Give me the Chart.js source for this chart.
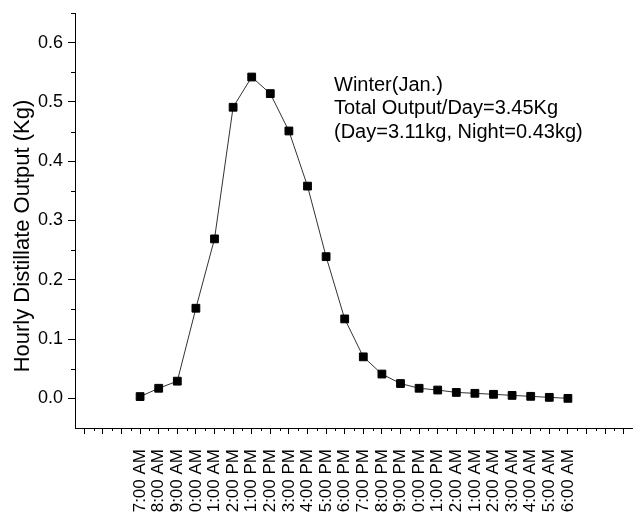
<!DOCTYPE html>
<html>
<head>
<meta charset="utf-8">
<script src="https://cdn.jsdelivr.net/npm/chart.js@4"></script>
<style>
  body { margin: 0; background: #fff; }
  canvas { display: block; }
</style>
</head>
<body>
<canvas id="winterChart" width="633" height="514"></canvas>
<script>
// hour of day, as printed under the axis (leading "1" clipped in the source)
const hourLabels = ['7:00 AM', '8:00 AM', '9:00 AM', '0:00 AM', '1:00 AM', '2:00 PM',
  '1:00 PM', '2:00 PM', '3:00 PM', '4:00 PM', '5:00 PM', '6:00 PM', '7:00 PM', '8:00 PM',
  '9:00 PM', '0:00 PM', '1:00 PM', '2:00 AM', '1:00 AM', '2:00 AM', '3:00 AM', '4:00 AM',
  '5:00 AM', '6:00 AM'];
// hourly distillate output in kg
const outputKg = [0.003, 0.017, 0.029, 0.152, 0.269, 0.491, 0.542, 0.514, 0.451, 0.358,
  0.239, 0.134, 0.070, 0.041, 0.025, 0.017, 0.014, 0.010, 0.0085, 0.0068, 0.005, 0.0034,
  0.0017, 0.0];
const yTicks = [0, 0.1, 0.2, 0.3, 0.4, 0.5, 0.6];
const yTitle = 'Hourly Distillate Output (Kg)';
const noteLines = ['Winter(Jan.)', 'Total Output/Day=3.45Kg', '(Day=3.11kg, Night=0.43kg)'];

const FONT = '"Liberation Sans", Arial, sans-serif';

const xMajor = [];
for (let i = -3; i <= 26; i++) xMajor.push(i);

// minor ticks, y title and the text block
const extras = {
  id: 'extras',
  afterDraw(chart) {
    const ctx = chart.ctx;
    const xs = chart.scales.x, ys = chart.scales.y;
    ctx.save();
    ctx.strokeStyle = '#000';
    ctx.lineWidth = 1;
    ctx.beginPath();
    xMajor.forEach(v => {
      const px = Math.round(xs.getPixelForValue(v + 0.5)) + 0.5;
      if (px < xs.right - 1) {
        ctx.moveTo(px, xs.top);
        ctx.lineTo(px, xs.top + 3);
      }
    });
    yTicks.forEach(v => {
      const py = Math.round(ys.getPixelForValue(v + 0.05)) + 0.5;
      ctx.moveTo(ys.right, py);
      ctx.lineTo(ys.right - 4, py);
    });
    ctx.stroke();

    ctx.fillStyle = '#000';
    // axis title, sits a bit below the axis middle like the original
    ctx.save();
    ctx.font = '22px ' + FONT;
    ctx.textAlign = 'center';
    ctx.textBaseline = 'middle';
    ctx.translate(23, 236);
    ctx.rotate(-Math.PI / 2);
    ctx.fillText(yTitle, 0, 0);
    ctx.restore();

    ctx.font = '20px ' + FONT;
    ctx.textBaseline = 'middle';
    ctx.textAlign = 'left';
    noteLines.forEach((t, i) => ctx.fillText(t, 334, 85 + i * 23.5));
    ctx.restore();
  }
};

new Chart(document.getElementById('winterChart'), {
  type: 'line',
  data: {
    datasets: [{
      data: outputKg.map((v, i) => ({ x: i, y: v })),
      borderColor: '#333',
      borderWidth: 1,
      tension: 0,
      pointStyle: 'rect',
      pointRadius: 5.5,
      pointBackgroundColor: '#000',
      pointBorderColor: '#000',
      pointBorderWidth: 1
    }]
  },
  options: {
    responsive: false,
    animation: false,
    devicePixelRatio: 1,
    layout: { autoPadding: false, padding: { top: 13, right: 0, left: 0, bottom: 0 } },
    plugins: { legend: { display: false }, tooltip: { enabled: false } },
    scales: {
      x: {
        type: 'linear',
        min: -3.5,
        max: 26.5,
        afterBuildTicks: s => { s.ticks = xMajor.map(v => ({ value: v })); },
        afterFit: s => { s.height = 86; s.paddingLeft = 0; s.paddingRight = 0; },
        border: { display: true, color: '#000', width: 1 },
        grid: { display: true, drawOnChartArea: false, drawTicks: true, tickLength: 6, tickColor: '#000' },
        ticks: {
          autoSkip: false,
          maxRotation: 90,
          minRotation: 90,
          padding: 15,
          color: '#000',
          font: { family: FONT, size: 17 },
          callback: v => (v >= 0 && v < hourLabels.length ? hourLabels[v] : '')
        }
      },
      y: {
        min: -0.05,
        max: 0.65,
        afterBuildTicks: s => { s.ticks = yTicks.map(v => ({ value: v })); },
        afterFit: s => { s.width = 75; s.paddingTop = 0; s.paddingBottom = 0; },
        border: { display: true, color: '#000', width: 1 },
        grid: { display: true, drawOnChartArea: false, drawTicks: true, tickLength: 7, tickColor: '#000' },
        ticks: {
          padding: 5,
          color: '#000',
          font: { family: FONT, size: 18 },
          callback: v => v.toFixed(1)
        }
      }
    }
  },
  plugins: [extras]
});
</script>
</body>
</html>
